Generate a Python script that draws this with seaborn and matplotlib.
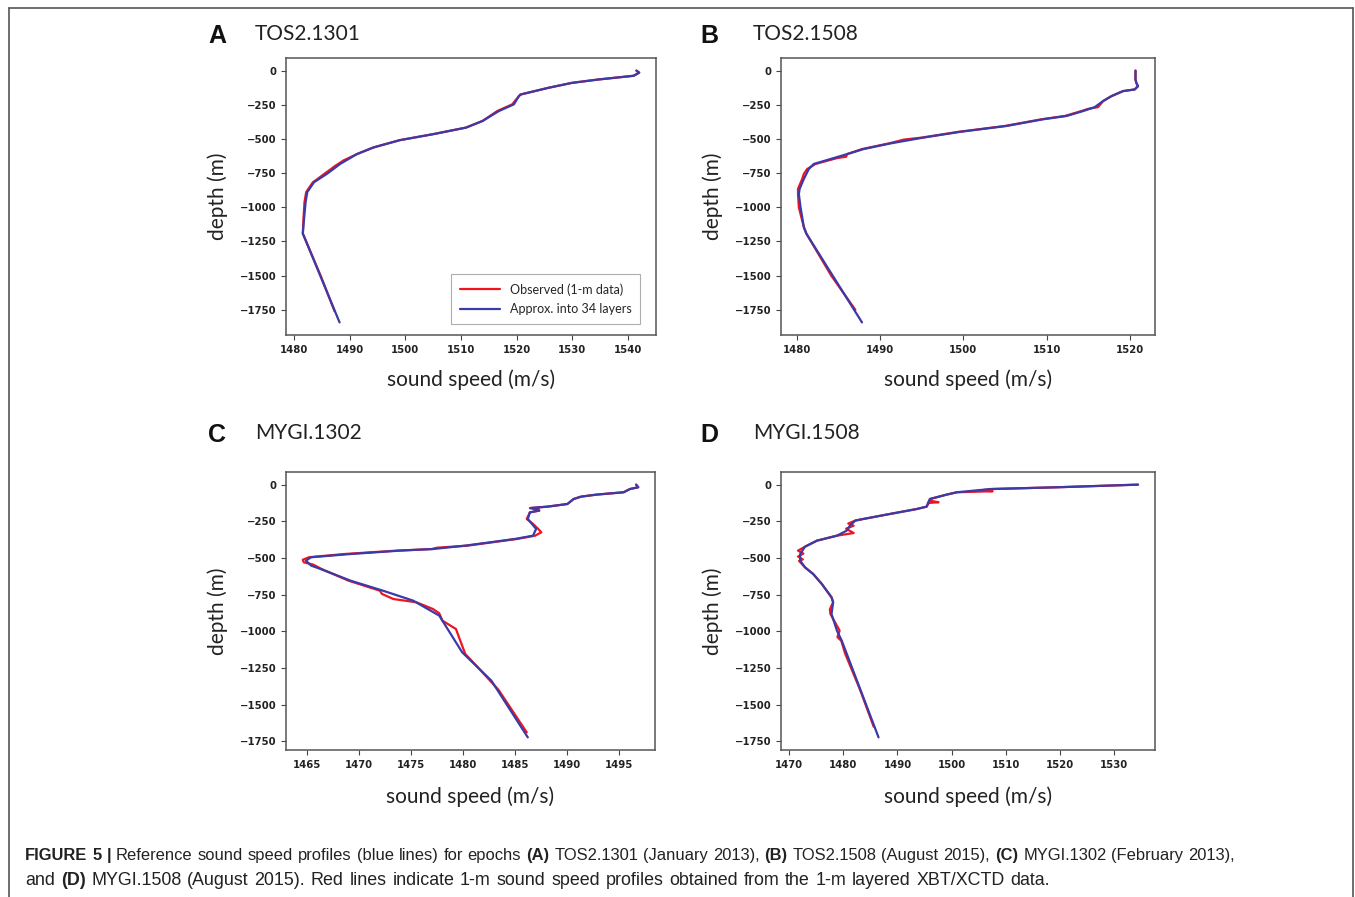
import numpy as np
import pandas as pd
import matplotlib
matplotlib.use("Agg")
import matplotlib.pyplot as plt
import seaborn as sns
from matplotlib.lines import Line2D

sns.set_theme(style="ticks")
plt.rcParams["font.family"] = ["Lato", "DejaVu Sans"]

# sound speed profiles (depth in m, speed in m/s)
# A  TOS2.1301
a_obs_depth = [0, -15, -38, -65, -90, -126, -175, -187, -247, -296, -368, -417, -465, -509, -562,
               -611, -648, -655, -700, -722, -760, -800, -817, -889, -962, -1095, -1192, -1500, -1760]
a_obs_speed = [1541.5, 1542.0, 1541.0, 1534.7, 1529.9, 1525.7, 1520.7, 1520.4, 1519.2, 1516.5, 1513.9,
               1510.9, 1505.0, 1499.0, 1494.3, 1491.3, 1489.4, 1489.0, 1487.3, 1486.6, 1485.3, 1484.0,
               1483.4, 1482.2, 1481.9, 1481.7, 1481.6, 1484.8, 1487.3]
a_fit_depth = [0, -15, -38, -65, -90, -126, -175, -187, -247, -296, -368, -417, -465, -509, -562,
               -611, -683, -756, -817, -889, -962, -1095, -1192, -1842]
a_fit_speed = [1541.5, 1542.0, 1541.0, 1534.7, 1529.9, 1525.7, 1520.7, 1520.4, 1519.5, 1516.8, 1513.9,
               1510.9, 1505.0, 1499.0, 1494.3, 1491.3, 1488.3, 1485.9, 1483.6, 1482.4, 1482.1, 1481.8,
               1481.6, 1488.2]

# B  TOS2.1508
b_obs_depth = [0, -65, -90, -114, -138, -150, -187, -223, -267, -280, -296, -332, -356, -405, -448, -490,
               -505, -515, -533, -574, -611, -630, -640, -683, -720, -756, -793, -865, -902, -1000,
               -1144, -1192, -1500, -1750]
b_obs_speed = [1520.7, 1520.7, 1520.8, 1521.0, 1520.6, 1519.2, 1517.8, 1516.8, 1516.2, 1515.0, 1514.2,
               1512.2, 1509.4, 1505.0, 1499.4, 1495.0, 1492.8, 1492.2, 1491.0, 1487.8, 1486.0, 1485.9,
               1484.8, 1482.2, 1481.2, 1480.8, 1480.6, 1480.1, 1480.1, 1480.2, 1480.8, 1481.1, 1484.1,
               1487.0]
b_fit_depth = [0, -65, -90, -114, -138, -150, -187, -223, -267, -296, -332, -356, -405, -448, -490,
               -533, -574, -611, -647, -683, -720, -793, -865, -902, -998, -1144, -1192, -1842]
b_fit_speed = [1520.7, 1520.7, 1520.8, 1521.0, 1520.6, 1519.2, 1517.8, 1516.8, 1515.8, 1514.4, 1512.4,
               1509.6, 1505.2, 1499.6, 1495.2, 1491.2, 1488.0, 1486.0, 1484.0, 1482.0, 1481.4, 1480.8,
               1480.3, 1480.2, 1480.4, 1480.8, 1481.1, 1487.8]

# C  MYGI.1302
c_obs_depth = [0, -18, -30, -52, -68, -82, -98, -132, -150, -160, -165, -177, -189, -234, -268, -302,
               -325, -348, -370, -416, -430, -439, -450, -473, -495, -512, -530, -545, -575, -655, -723,
               -745, -780, -802, -848, -877, -927, -984, -1041, -1155, -1245, -1400, -1689]
c_obs_speed = [1496.6, 1496.8, 1496.0, 1495.4, 1492.8, 1491.3, 1490.6, 1490.0, 1488.1, 1486.4, 1487.2,
               1487.3, 1486.4, 1486.1, 1486.7, 1487.2, 1487.5, 1486.9, 1485.2, 1480.4, 1477.5, 1477.0,
               1473.6, 1468.6, 1465.2, 1464.6, 1464.7, 1465.6, 1466.4, 1469.0, 1472.0, 1472.2, 1473.3,
               1475.5, 1477.1, 1477.7, 1478.0, 1479.3, 1479.6, 1480.2, 1481.4, 1483.4, 1486.1]
c_fit_depth = [0, -18, -30, -52, -68, -82, -98, -132, -150, -159, -177, -189, -234, -268, -302, -348,
               -370, -416, -439, -450, -473, -495, -518, -552, -575, -655, -723, -791, -893, -1143,
               -1336, -1723]
c_fit_speed = [1496.6, 1496.8, 1496.0, 1495.4, 1492.8, 1491.3, 1490.6, 1490.0, 1488.1, 1486.5, 1487.3,
               1486.4, 1486.2, 1486.6, 1487.0, 1486.7, 1485.0, 1480.2, 1477.1, 1473.9, 1469.2, 1465.4,
               1464.9, 1465.4, 1466.3, 1469.2, 1472.3, 1475.2, 1477.7, 1479.9, 1482.7, 1486.2]

# D  MYGI.1508
d_obs_depth = [0, -18, -30, -40, -45, -52, -68, -98, -110, -120, -125, -150, -166, -200, -234, -245,
               -265, -280, -300, -330, -348, -382, -423, -450, -470, -490, -510, -520, -564, -609,
               -677, -768, -802, -850, -882, -995, -1040, -1064, -1150, -1400, -1650]
d_obs_speed = [1534.5, 1519.5, 1507.5, 1505.2, 1507.6, 1501.0, 1499.1, 1496.0, 1496.1, 1497.6, 1495.8,
               1495.4, 1493.6, 1488.6, 1483.7, 1482.2, 1480.9, 1481.9, 1480.5, 1481.9, 1478.8, 1475.1,
               1472.9, 1471.6, 1472.6, 1471.6, 1472.5, 1471.8, 1472.9, 1474.4, 1476.0, 1477.8, 1478.1,
               1477.5, 1477.6, 1479.3, 1478.9, 1479.6, 1480.3, 1483.1, 1485.6]
d_fit_depth = [0, -18, -30, -52, -68, -98, -120, -150, -166, -200, -234, -245, -280, -314, -348, -382,
               -423, -473, -518, -564, -609, -677, -768, -802, -882, -995, -1064, -1723]
d_fit_speed = [1534.5, 1519.5, 1507.2, 1501.0, 1499.1, 1496.0, 1495.7, 1495.4, 1493.6, 1488.6, 1483.7,
               1482.2, 1481.2, 1480.6, 1478.8, 1475.1, 1472.9, 1472.0, 1472.0, 1472.9, 1474.4, 1476.0,
               1477.8, 1478.1, 1477.8, 1478.8, 1479.7, 1486.5]

letters = ["A", "B", "C", "D"]
titles = ["TOS2.1301", "TOS2.1508", "MYGI.1302", "MYGI.1508"]
xticks = [[1480, 1490, 1500, 1510, 1520, 1530, 1540],
          [1480, 1490, 1500, 1510, 1520],
          [1465, 1470, 1475, 1480, 1485, 1490, 1495],
          [1470, 1480, 1490, 1500, 1510, 1520, 1530]]
yticks = [0, -250, -500, -750, -1000, -1250, -1500, -1750]
obs_name = "Observed (1-m data)"
fit_name = "Approx. into 34 layers"

profiles = [(a_obs_speed, a_obs_depth, a_fit_speed, a_fit_depth),
            (b_obs_speed, b_obs_depth, b_fit_speed, b_fit_depth),
            (c_obs_speed, c_obs_depth, c_fit_speed, c_fit_depth),
            (d_obs_speed, d_obs_depth, d_fit_speed, d_fit_depth)]

W, H = 1355, 897
fig = plt.figure(figsize=(W / 100, H / 100), dpi=100)
fig.patch.set_facecolor("white")

# axes boxes in pixels: left, top, right, bottom
boxes = [(286, 58, 656, 335), (781, 58, 1155, 335), (286, 472, 655, 750), (781, 472, 1155, 750)]
xlab_y = [380, 380, 797, 797]
head_y = [36, 36, 435, 435]
letter_x = [217, 709, 217, 709]
title_x = [255, 753, 255, 753]
pal = {obs_name: "#f0141e", fit_name: "#3a3aa8"}

for i, (l, t, r, b) in enumerate(boxes):
    ax = fig.add_axes([l / W, 1 - b / H, (r - l) / W, (b - t) / H])
    os_, od, fs, fd = profiles[i]
    df = pd.concat([
        pd.DataFrame({"speed": os_, "depth": od, "kind": obs_name}),
        pd.DataFrame({"speed": fs, "depth": fd, "kind": fit_name}),
    ], ignore_index=True)
    sns.lineplot(data=df, x="speed", y="depth", hue="kind", palette=pal, sort=False,
                 estimator=None, lw=1.6, ax=ax, legend=(i == 0))
    ax.set_xticks(xticks[i])
    ax.set_yticks(yticks)
    ax.tick_params(labelsize=7.3, length=3.5, width=0.8, color="#444444",
                   labelfontfamily="DejaVu Sans")
    for lab in ax.get_xticklabels() + ax.get_yticklabels():
        lab.set_fontweight("bold")
        lab.set_color("#222222")
    for sp in ax.spines.values():
        sp.set_visible(True)
        sp.set_color("#555555")
        sp.set_linewidth(1.1)
    ax.set_xlabel("sound speed (m/s)", fontsize=15, color="#222222")
    ax.set_ylabel("depth (m)", fontsize=15, color="#222222")
    ax.xaxis.set_label_coords(0.5, -(xlab_y[i] - b) / (b - t))
    ax.xaxis.label.set_va("center")
    ax.yaxis.set_label_coords((218 - l) / (r - l) if i % 2 == 0 else (713 - l) / (r - l), 0.5)
    ax.yaxis.label.set_va("center")
    if i == 0:
        leg = ax.legend(loc="lower right", bbox_to_anchor=(0.958, 0.04), borderaxespad=0,
                        fontsize=9, frameon=True, fancybox=False, handlelength=3.2,
                        borderpad=0.7, labelspacing=0.6)
        leg.get_frame().set_edgecolor("#999999")
        leg.get_frame().set_linewidth(0.8)
        for h in leg.get_lines():
            h.set_linewidth(1.6)
    fig.text(letter_x[i] / W, 1 - head_y[i] / H, letters[i], ha="center", va="center",
             fontsize=18, fontweight="bold", family=["Liberation Sans", "DejaVu Sans"], color="#111111")
    fig.text(title_x[i] / W, 1 - (head_y[i] - 2) / H, titles[i], ha="left", va="center",
             fontsize=15, color="#222222")

# outer frame (open at the bottom)
fr = dict(color="#555555", lw=1.2, transform=fig.transFigure)
fig.add_artist(Line2D([9 / W, 9 / W], [0, 1 - 8.5 / H], **fr))
fig.add_artist(Line2D([9 / W, 1353 / W], [1 - 8.5 / H, 1 - 8.5 / H], **fr))
fig.add_artist(Line2D([1353 / W, 1353 / W], [0, 1 - 8.5 / H], **fr))

# caption with bold pieces
cap1 = [("FIGURE 5 |", True), ("Reference sound speed profiles (blue lines) for epochs", False),
        ("(A)", True), ("TOS2.1301 (January 2013),", False), ("(B)", True),
        ("TOS2.1508 (August 2015),", False), ("(C)", True), ("MYGI.1302 (February 2013),", False)]
cap2 = [("and", False), ("(D)", True),
        ("MYGI.1508 (August 2015). Red lines indicate 1-m sound speed profiles obtained from the 1-m layered XBT/XCTD data.", False)]

renderer = fig.canvas.get_renderer()
cap_kw = dict(ha="left", va="center", family=["Liberation Sans", "DejaVu Sans"], color="#222222")


def put_runs(runs, x0, x1, y, size):
    # lay out words one by one, spreading the leftover room over the gaps
    words = []
    for txt, bold in runs:
        for w in txt.split(" "):
            words.append((w, bold))
    arts = [fig.text(0, 1 - y / H, w, fontsize=size, fontweight="bold" if bd else "normal", **cap_kw)
            for w, bd in words]
    widths = [a.get_window_extent(renderer).width for a in arts]
    gap = (x1 - x0 - sum(widths)) / (len(words) - 1)
    x = x0
    for a, wd in zip(arts, widths):
        a.set_x(x / W)
        x += wd + gap


put_runs(cap1, 25, 1235, 855, 11.9)
put_runs(cap2, 25, 1050, 880, 12.9)

fig.savefig("out.png", dpi=100)
